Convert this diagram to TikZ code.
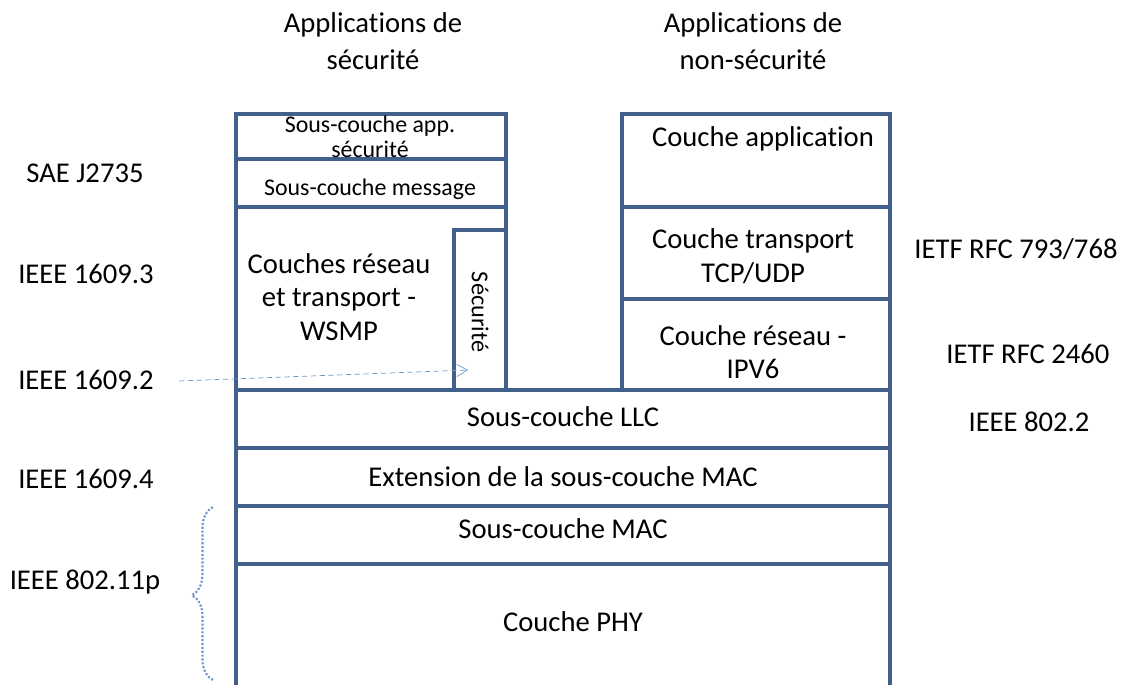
\documentclass[tikz,border=0pt]{standalone}
\usepackage{fontspec}
\setmainfont{Carlito}[Ligatures=NoCommon]
\usepackage{tikz}
\usetikzlibrary{arrows.meta,decorations.pathreplacing}
\definecolor{layerblue}{RGB}{66, 96, 140}
\definecolor{linkblue}{RGB}{110, 150, 200}

\begin{document}
\begin{tikzpicture}[x=0.02cm, y=-0.02cm,
    layer/.style={draw=layerblue, line width=2pt},
    big/.style={font=\fontsize{16.3}{18}\selectfont, align=center, inner sep=0pt},
    small/.style={font=\fontsize{13.6}{15}\selectfont, align=center, inner sep=0pt},
    std/.style={font=\fontsize{16.3}{18}\selectfont, inner sep=0pt}]
  \useasboundingbox (0,0) rectangle (1138,685);

  % titres
  \node[big] (appsec) at (373,41) {Applications de\\[3pt]sécurité};
  \node[big] (appnonsec) at (753,41) {Applications de\\[3pt]non-sécurité};

  % pile securite
  \draw[layer] (236,390) -- (236,114) -- (506,114) -- (506,390);
  \draw[layer] (236,159) -- (506,159);
  \draw[layer] (236,207) -- (506,207);
  \draw[layer] (454,390) -- (454,230) -- (506,230);
  \node[small] (appsub) at (370,137) {Sous-couche app.\\[-1pt]sécurité};
  \node[small] (msg) at (370,189) {Sous-couche message};
  \node[big] (wsmp) at (339,297) {Couches réseau\\[1pt]et transport -\\[1pt]WSMP};
  \node[small, font=\fontsize{13.8}{15}\selectfont, rotate=-90] (secu) at (480,312) {Sécurité};

  % pile non-securite
  \draw[layer] (622,390) -- (622,114) -- (890,114) -- (890,390);
  \draw[layer] (622,207) -- (890,207);
  \draw[layer] (622,299) -- (890,299);
  \node[big] (appl) at (763,139) {Couche application};
  \node[big] (tcp) at (753,256) {Couche transport\\[1pt]TCP/UDP};
  \node[big] (ipv6) at (753,352) {Couche réseau -\\[1pt]IPV6};

  % couches basses
  \draw[layer] (236,685) -- (236,390) -- (890,390) -- (890,685);
  \foreach \y in {448,506,564}
    \draw[layer] (236,\y) -- (890,\y);
  \node[big] (llc) at (563,417) {Sous-couche LLC};
  \node[big] (ext) at (563,477) {Extension de la sous-couche MAC};
  \node[big] (mac) at (563,529) {Sous-couche MAC};
  \node[big] (phy) at (573,622) {Couche PHY};

  % normes
  \node[std] (sae) at (85,173) {SAE J2735};
  \node[std] (i16093) at (86,274) {IEEE 1609.3};
  \node[std] (i16092) at (86,380) {IEEE 1609.2};
  \node[std] (i16094) at (86,479) {IEEE 1609.4};
  \node[std] (i80211) at (85,582) {IEEE 802.11p};
  \node[std] (rfc793) at (1016,249) {IETF RFC 793/768};
  \node[std] (rfc2460) at (1028,354) {IETF RFC 2460};
  \node[std] (i8022) at (1029,422) {IEEE 802.2};

  \coordinate (sectip) at (468,370);
  \draw[linkblue, densely dashed, thin, -{Straight Barb[length=6pt, width=7pt]}] (i16092.east)+(25,1) -- (sectip);
  \draw[linkblue, densely dotted, line width=1.2pt,
    decorate, decoration={brace, amplitude=12pt, aspect=0.49}] (213,680) -- (213,507);
\end{tikzpicture}
\end{document}
